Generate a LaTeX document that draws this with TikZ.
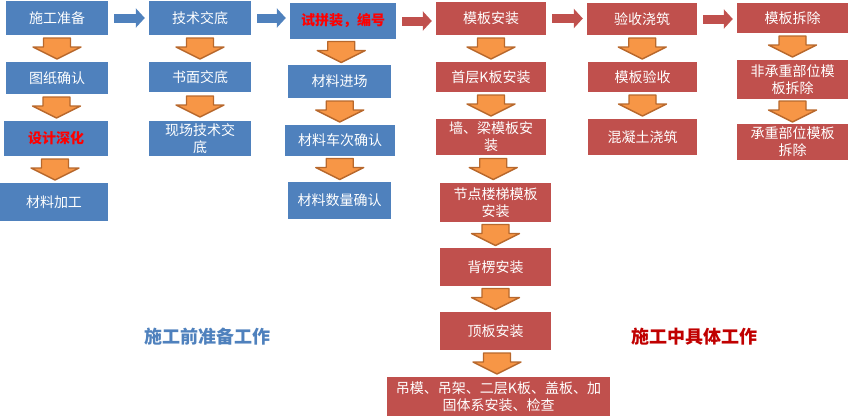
\documentclass[tikz,border=0pt]{standalone}
\usepackage{fontspec}
\newfontfamily\cjk{Noto Sans CJK SC}
\usetikzlibrary{arrows.meta, calc}
\definecolor{stblue}{HTML}{4F81BD}
\definecolor{stred}{HTML}{C0504D}
\definecolor{stdark}{HTML}{C00000}
\definecolor{arfill}{HTML}{F79646}
\definecolor{arline}{HTML}{B8682C}

\begin{document}
\begin{tikzpicture}[x=1pt, y=-1pt,
          sz/.style 2 args={minimum width=#1pt, minimum height=#2pt},
          bbox/.style={fill=stblue, text=white, inner sep=0pt, align=center, font=\cjk\fontsize{14}{17}\selectfont},
          rbox/.style={fill=stred, text=white, inner sep=0pt, align=center, font=\cjk\fontsize{14}{17}\selectfont},
          hot/.style={text=red, font=\cjk\bfseries\fontsize{14}{17}\selectfont},
          dnarrow/.style={fill=arfill, draw=arline, line width=1.4pt, line join=round},
          rarrow/.style={line width=9pt, -{Triangle[length=9pt, width=19pt]}, shorten <=6pt, shorten >=4pt}]
          \useasboundingbox (0,0) rectangle (849,416);
          % preparation columns
          \node[bbox, sz={102}{34}] (p1) at (57,18) {施工准备};
          \node[bbox, sz={102}{32}] (p2) at (57,78) {图纸确认};
          \node[bbox, hot, sz={104}{35}] (p3) at (56,138.5) {设计深化};
          \node[bbox, sz={108}{38}] (p4) at (54,202) {材料加工};
          \node[bbox, sz={102}{34}] (q1) at (200,18) {技术交底};
          \node[bbox, sz={102}{30}] (q2) at (200,77) {书面交底};
          \node[bbox, sz={102}{35}] (q3) at (200,138.5) {现场技术交\\底};
          \node[bbox, hot, sz={106}{36}] (r1) at (343,21) {试拼装，编号};
          \node[bbox, sz={103}{33}] (r2) at (339.5,81.5) {材料进场};
          \node[bbox, sz={110}{31}] (r3) at (340,140.5) {材料车次确认};
          \node[bbox, sz={103}{37}] (r4) at (339.5,200.5) {材料数量确认};
          % construction columns
          \node[rbox, sz={110}{33}] (s1) at (491,18.5) {模板安装};
          \node[rbox, sz={110}{30}] (s2) at (491,77) {首层K板安装};
          \node[rbox, sz={110}{36}] (s3) at (491,137) {墙、梁模板安\\装};
          \node[rbox, sz={111}{39}] (s4) at (495.5,202.5) {节点楼梯模板\\安装};
          \node[rbox, sz={111}{38}] (s5) at (495.5,267) {背楞安装};
          \node[rbox, sz={111}{38}] (s6) at (495.5,331) {顶板安装};
          \node[rbox, sz={223}{39}] (s7) at (498.5,396.5) {吊模、吊架、二层K板、盖板、加\\固体系安装、检查};
          \node[rbox, sz={110}{32}] (t1) at (642,19) {验收浇筑};
          \node[rbox, sz={109}{30}] (t2) at (642.5,77) {模板验收};
          \node[rbox, sz={109}{36}] (t3) at (642.5,137) {混凝土浇筑};
          \node[rbox, sz={111}{30}] (u1) at (792.5,18) {模板拆除};
          \node[rbox, sz={111}{39}] (u2) at (792.5,79.5) {非承重部位模\\板拆除};
          \node[rbox, sz={111}{36}] (u3) at (792.5,142) {承重部位模板\\拆除};
          % block arrows
          \foreach \a/\b in {p1/p2, p2/p3, p3/p4, q1/q2, q2/q3, r1/r2, r2/r3, r3/r4,
                             s1/s2, s2/s3, s3/s4, s4/s5, s5/s6, s6/s7, t1/t2, t2/t3, u1/u2, u2/u3}
            \draw[dnarrow] ($(\a.south)!.5!(\b.north)$) ++(-13.5,-10.5) -- ++(27,0) -- ++(0,9)
              -- ++(10.5,0) -- ++(-24,12) -- ++(-24,-12) -- ++(10.5,0) -- cycle;
          \foreach \a/\b/\c in {p1/q1/stblue, q1/r1/stblue, r1/s1/stred, s1/t1/stred, t1/u1/stred}
            \draw[rarrow, draw=\c, fill=\c] (\a.east) -- (\a.east -| \b.west);
          \node[text=stblue, font=\cjk\bfseries\fontsize{18}{20}\selectfont] (lprep) at (207,337) {施工前准备工作};
          \node[text=stdark, font=\cjk\bfseries\fontsize{18}{20}\selectfont] (lwork) at (694,337) {施工中具体工作};
        \end{tikzpicture}
\end{document}
